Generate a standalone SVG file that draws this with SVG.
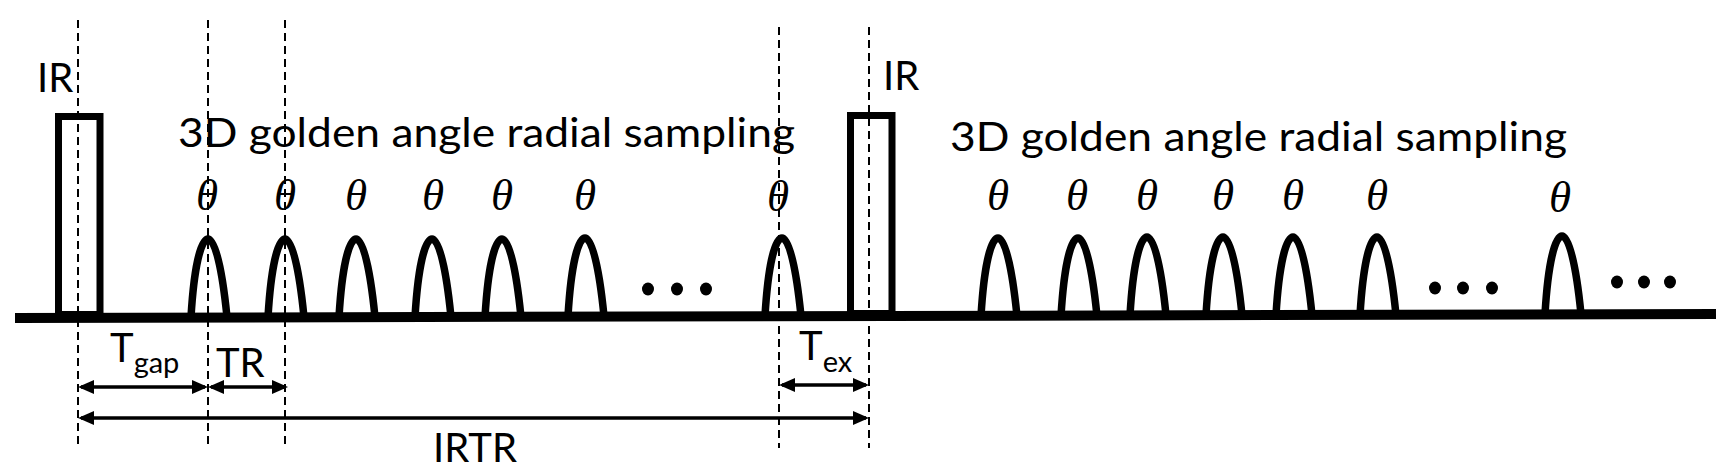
<svg xmlns="http://www.w3.org/2000/svg" width="1716" height="471" viewBox="0 0 1716 471">
<defs>
<style>
.txt{font-family:Lato,"Open Sans","Liberation Sans",sans-serif;fill:#000;}
.big{font-size:40px;}
.sub{font-size:29px;}
.th{font-family:"Liberation Serif","DejaVu Serif",serif;font-style:italic;font-size:45px;fill:#000;text-anchor:middle;}
.pulse{fill:none;stroke:#000;stroke-width:7.5;stroke-linejoin:round;}
.ir{fill:#fff;stroke:#000;stroke-width:7;}
.dash{stroke:#000;stroke-width:2;stroke-dasharray:8 5;fill:none;}
.dim{stroke:#000;stroke-width:3.5;fill:none;}
.dot{fill:#000;}
</style>
<marker id="ah" markerUnits="userSpaceOnUse" viewBox="0 0 16 14" markerWidth="16" markerHeight="14" refX="13" refY="7" orient="auto-start-reverse">
<path d="M0,0 L16,7 L0,14 z" fill="#000"/>
</marker>
<path id="p" d="M-17,0 C-14,-50 -7,-78 0,-78 C7,-78 14,-50 19,0"/>
</defs>
<rect width="1716" height="471" fill="#fff"/>

<g id="baseline">
<line x1="15" y1="318" x2="1716" y2="314" stroke="#000" stroke-width="10"/>
</g>

<g id="ir1">
<rect class="ir" x="58.5" y="116.5" width="41.5" height="198"/>
<text class="txt big" x="37" y="92">IR</text>
</g>
<g id="ir2">
<rect class="ir" x="850.5" y="115.5" width="41.5" height="198"/>
<text class="txt big" x="883" y="90">IR</text>
</g>

<g id="pulses">
<use href="#p" class="pulse" x="208" y="317"/>
<use href="#p" class="pulse" x="285" y="317"/>
<use href="#p" class="pulse" x="356" y="317"/>
<use href="#p" class="pulse" x="432" y="317"/>
<use href="#p" class="pulse" x="502" y="317"/>
<use href="#p" class="pulse" x="585" y="316"/>
<use href="#p" class="pulse" x="782" y="316"/>
<use href="#p" class="pulse" x="998" y="316"/>
<use href="#p" class="pulse" x="1078" y="316"/>
<use href="#p" class="pulse" x="1147" y="315"/>
<use href="#p" class="pulse" x="1223" y="315"/>
<use href="#p" class="pulse" x="1293" y="315"/>
<use href="#p" class="pulse" x="1377" y="315"/>
<use href="#p" class="pulse" x="1562" y="314"/>
</g>

<g id="thetas">
<text class="th" x="207" y="210">θ</text>
<text class="th" x="285" y="210">θ</text>
<text class="th" x="356" y="210">θ</text>
<text class="th" x="433" y="210">θ</text>
<text class="th" x="502" y="210">θ</text>
<text class="th" x="585" y="210">θ</text>
<text class="th" x="778" y="211">θ</text>
<text class="th" x="998" y="210">θ</text>
<text class="th" x="1077" y="210">θ</text>
<text class="th" x="1147" y="210">θ</text>
<text class="th" x="1223" y="210">θ</text>
<text class="th" x="1293" y="210">θ</text>
<text class="th" x="1377" y="210">θ</text>
<text class="th" x="1560" y="212">θ</text>
</g>

<g id="dots">
<ellipse class="dot" cx="648" cy="289" rx="6" ry="6.5"/>
<ellipse class="dot" cx="677" cy="289" rx="6" ry="6.5"/>
<ellipse class="dot" cx="706" cy="289" rx="6" ry="6.5"/>
<ellipse class="dot" cx="1435" cy="288" rx="6" ry="6.5"/>
<ellipse class="dot" cx="1463" cy="288" rx="6" ry="6.5"/>
<ellipse class="dot" cx="1492" cy="288" rx="6" ry="6.5"/>
<ellipse class="dot" cx="1617" cy="282" rx="6" ry="6.5"/>
<ellipse class="dot" cx="1644" cy="282" rx="6" ry="6.5"/>
<ellipse class="dot" cx="1670" cy="282" rx="6" ry="6.5"/>
</g>

<g id="titles">
<text class="txt big" x="178" y="147" textLength="617" lengthAdjust="spacingAndGlyphs">3D golden angle radial sampling</text>
<text class="txt big" x="950" y="151" textLength="617" lengthAdjust="spacingAndGlyphs">3D golden angle radial sampling</text>
</g>

<g id="guides">
<line class="dash" x1="78" y1="20" x2="78" y2="445"/>
<line class="dash" x1="208" y1="20" x2="208" y2="445"/>
<line class="dash" x1="285" y1="20" x2="285" y2="445"/>
<line class="dash" x1="779" y1="27" x2="779" y2="448"/>
<line class="dash" x1="869" y1="27" x2="869" y2="448"/>
</g>

<g id="connectors">
<line class="dim" x1="81" y1="387" x2="205" y2="387" marker-start="url(#ah)" marker-end="url(#ah)"/>
<line class="dim" x1="211" y1="387" x2="285" y2="387" marker-start="url(#ah)" marker-end="url(#ah)"/>
<line class="dim" x1="782" y1="385" x2="866" y2="385" marker-start="url(#ah)" marker-end="url(#ah)"/>
<line class="dim" x1="81" y1="418" x2="866" y2="418" stroke-width="3" marker-start="url(#ah)" marker-end="url(#ah)"/>
</g>

<g id="labels">
<text class="txt big" x="110" y="362">T<tspan class="sub" dy="11">gap</tspan></text>
<text class="txt big" x="216" y="377">TR</text>
<text class="txt big" x="799" y="360">T<tspan class="sub" dy="12">ex</tspan></text>
<text class="txt big" x="433" y="462">IRTR</text>
</g>
</svg>
